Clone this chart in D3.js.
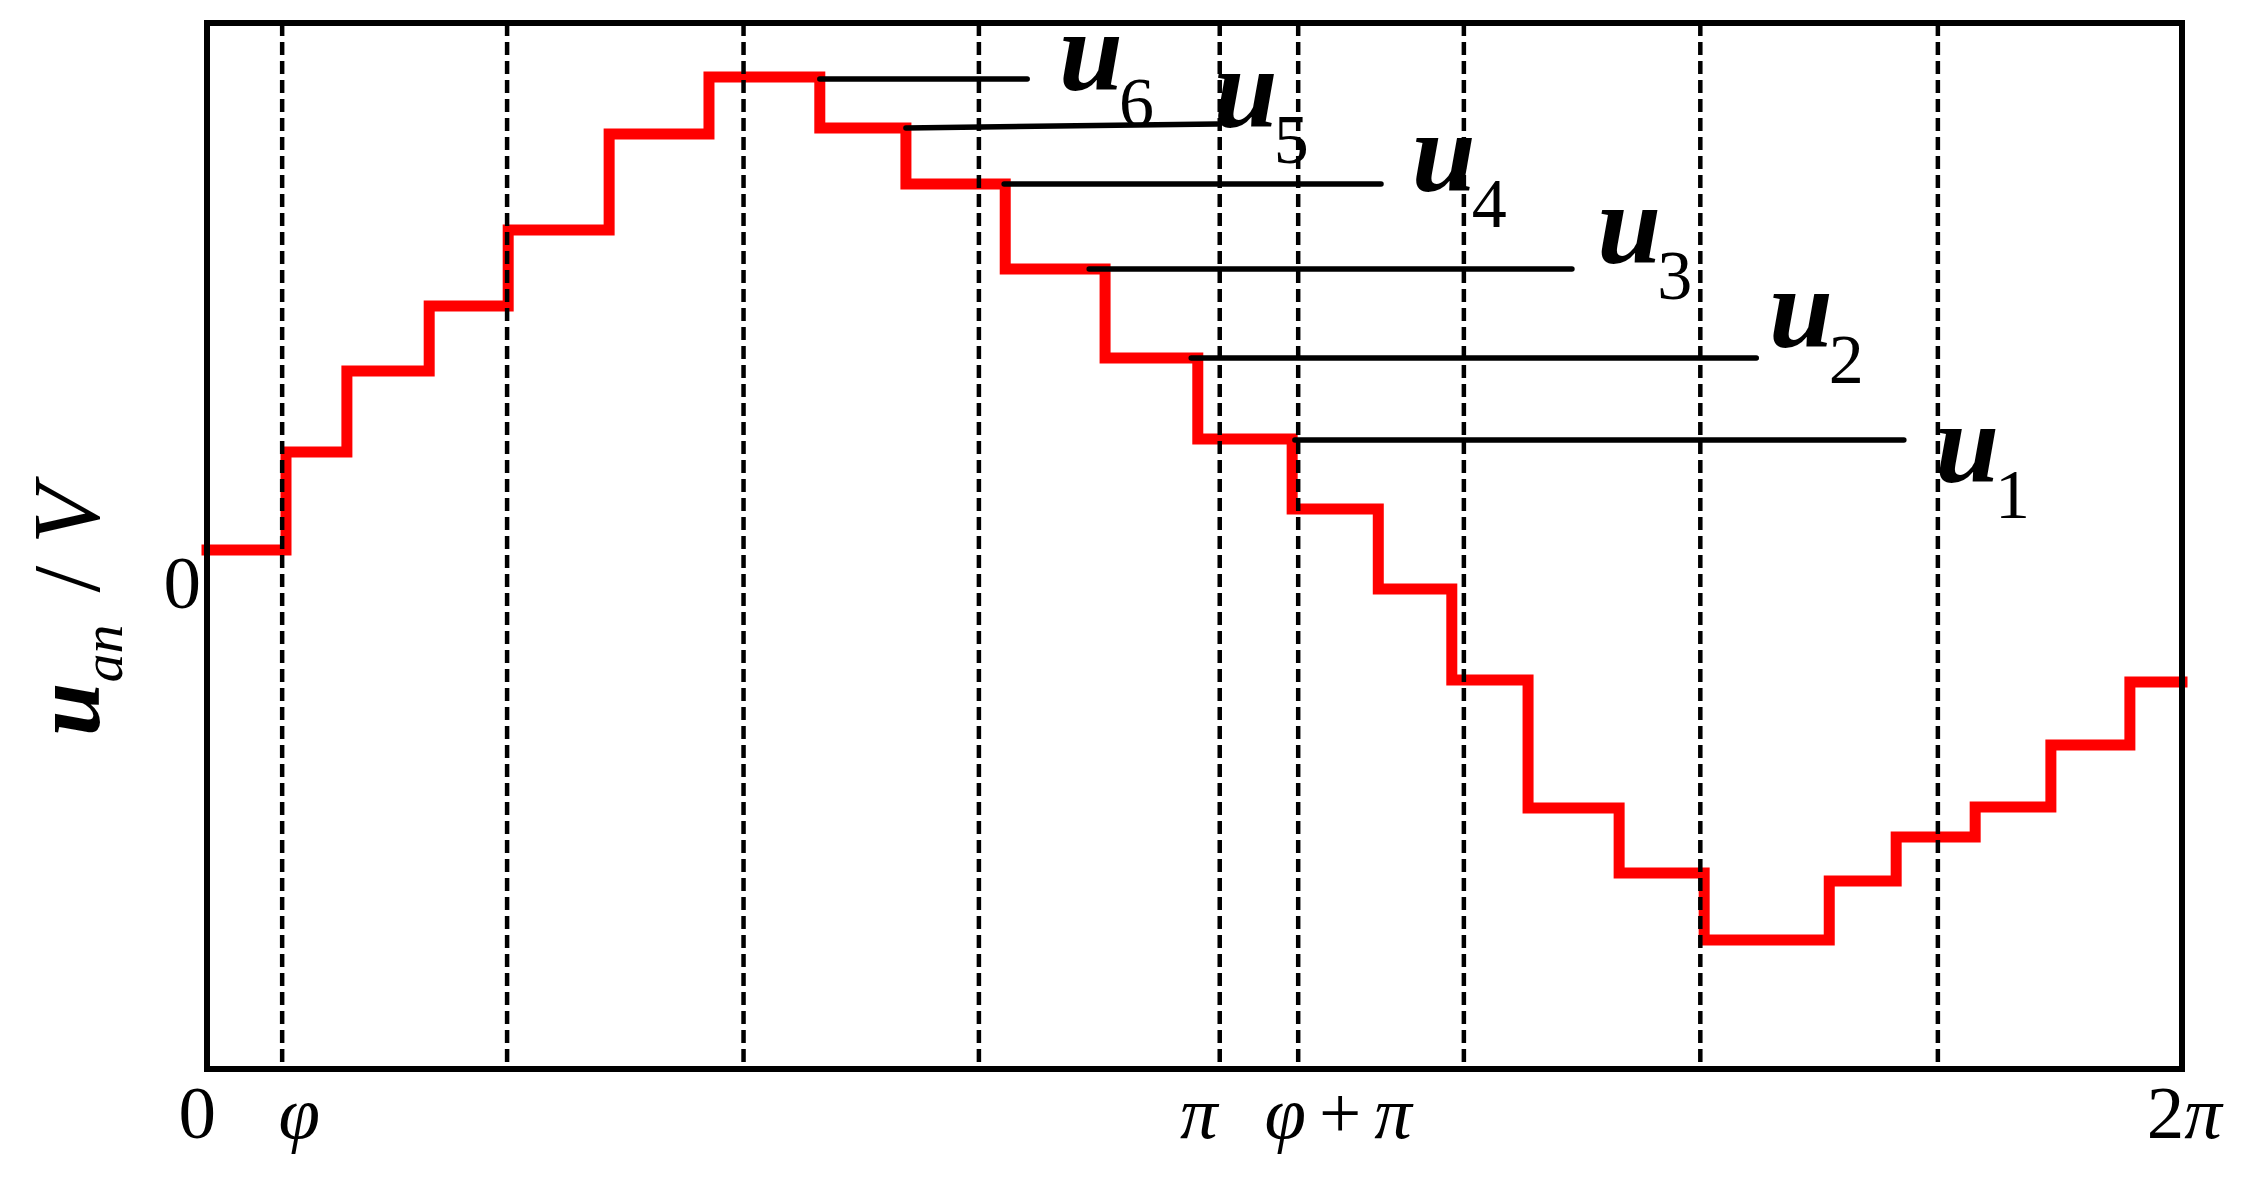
<!DOCTYPE html>
<html>
<head>
<meta charset="utf-8">
<script src="https://cdn.jsdelivr.net/npm/d3@7"></script>
<style>
  body { margin: 0; background: #fff; }
  svg { display: block; font-family: 'Liberation Serif', 'Times New Roman', serif; }
</style>
</head>
<body>
<div id="chart"></div>
<script>
/* global d3 */

// staircase u_an: angle (deg) where each level starts, and its level
const stepStart = [0, 14.4, 25.5, 40.5, 54.9, 73.3, 91.5, 111.7, 127.4, 145.5, 163.7, 180.6,
  197.8, 213.5, 226.9, 240.8, 257.4, 272.9, 295.7, 307.9, 322.3, 336.1, 350.5];
const stepLevel = [0, 0.98, 1.79, 2.44, 3.20, 4.16, 4.73, 4.22, 3.66, 2.81, 1.92, 1.11,
  0.41, -0.39, -1.30, -2.58, -3.23, -3.90, -3.31, -2.87, -2.57, -1.95, -1.32];
const periodEnd = 360;

// dashed reference angles (deg)
const gridAngles = [13.7, 54.7, 97.8, 140.7, 184.6, 198.9, 229.1, 272.2, 315.5];

// x tick labels (deg)
const xTickPos = [-1.8, 16.8, 180.8, 206.2, 360.4];
const xTickLabels = ['0', 'φ', 'π', 'φ+π', '2π'];

// y tick labels
const yTickPos = [0];
const yTickLabels = ['0'];

// u1..u6 leader lines and labels
const levelNames = ['6', '5', '4', '3', '2', '1'];
const leaderFrom = [111.7, 127.4, 145.3, 160.8, 179.4, 198.3];
const leaderTo = [149.5, 184.1, 214.0, 248.8, 282.4, 309.3];
const leaderFromLevel = [4.71, 4.22, 3.66, 2.81, 1.92, 1.10];
const leaderToLevel = [4.71, 4.26, 3.66, 2.81, 1.92, 1.10];
const labelAngle = [155.3, 183.5, 219.6, 253.4, 284.7, 315.0];
const labelLevel = [4.60, 4.23, 3.59, 2.87, 2.03, 0.68];

const W = 2241;
const H = 1181;
const margin = { top: 23, right: 59, bottom: 112, left: 207 };
const width = W - margin.left - margin.right;
const height = H - margin.top - margin.bottom;

const svg = d3.select('#chart').append('svg')
  .attr('width', W)
  .attr('height', H);

const g = svg.append('g')
  .attr('transform', `translate(${margin.left},${margin.top})`);

const x = d3.scaleLinear().domain([0, periodEnd]).range([0, width]);
const y = d3.scaleLinear().domain([-5.19, 5.27]).range([height, 0]);

// waveform
const pts = stepStart.map((a, i) => [a, stepLevel[i]]);
pts.push([periodEnd, stepLevel[stepLevel.length - 1]]);

const line = d3.line()
  .x(d => x(d[0]))
  .y(d => y(d[1]))
  .curve(d3.curveStepAfter);

g.append('path')
  .datum(pts)
  .attr('d', line)
  .attr('fill', 'none')
  .attr('stroke', '#ff0000')
  .attr('stroke-width', 11)
  .attr('stroke-linejoin', 'miter')
  .attr('stroke-linecap', 'square');

// dashed verticals
g.selectAll('line.grid')
  .data(gridAngles)
  .enter().append('line')
  .attr('class', 'grid')
  .attr('x1', d => x(d))
  .attr('x2', d => x(d))
  .attr('y1', 0)
  .attr('y2', height)
  .attr('stroke', '#000')
  .attr('stroke-width', 4.5)
  .attr('stroke-dasharray', '13,6');

// leaders
g.selectAll('line.leader')
  .data(levelNames)
  .enter().append('line')
  .attr('class', 'leader')
  .attr('x1', (d, i) => x(leaderFrom[i]))
  .attr('x2', (d, i) => x(leaderTo[i]))
  .attr('y1', (d, i) => y(leaderFromLevel[i]))
  .attr('y2', (d, i) => y(leaderToLevel[i]))
  .attr('stroke', '#000')
  .attr('stroke-width', 5.5)
  .attr('stroke-linecap', 'round');

const lab = g.selectAll('text.ulab')
  .data(levelNames)
  .enter().append('text')
  .attr('class', 'ulab')
  .attr('x', (d, i) => x(labelAngle[i]))
  .attr('y', (d, i) => y(labelLevel[i]));

lab.append('tspan')
  .attr('font-size', 115)
  .attr('font-style', 'italic')
  .attr('font-weight', 'bold')
  .text('u');
lab.append('tspan')
  .attr('font-size', 70)
  .attr('dx', -4)
  .attr('dy', 36)
  .text(d => d);

// frame
g.append('rect')
  .attr('width', width)
  .attr('height', height)
  .attr('fill', 'none')
  .attr('stroke', '#000')
  .attr('stroke-width', 6);

// x tick labels, greek letters in italic, '+' spaced out
const xt = g.selectAll('text.xtick')
  .data(xTickLabels)
  .enter().append('text')
  .attr('class', 'xtick')
  .attr('x', (d, i) => x(xTickPos[i]))
  .attr('y', height + 69)
  .attr('text-anchor', 'middle')
  .attr('font-size', 75);

xt.selectAll('tspan')
  .data(d => d.split('').map((c, i, arr) => ({ c, prev: arr[i - 1] })))
  .enter().append('tspan')
  .attr('font-style', d => ('φπ'.includes(d.c) ? 'italic' : 'normal'))
  .attr('dx', d => (d.c === '+' || d.prev === '+' ? 13 : 0))
  .text(d => d.c);

// y tick labels
g.selectAll('text.ytick')
  .data(yTickLabels)
  .enter().append('text')
  .attr('class', 'ytick')
  .attr('x', -6)
  .attr('y', (d, i) => y(yTickPos[i]) + 58)
  .attr('text-anchor', 'end')
  .attr('font-size', 75)
  .text(d => d);

// y axis title: u_an / V
const yt = svg.append('text')
  .attr('transform', 'translate(99,736) rotate(-90)')
  .attr('font-size', 96);
yt.append('tspan')
  .attr('font-style', 'italic')
  .attr('font-weight', 'bold')
  .text('u');
yt.append('tspan')
  .attr('font-style', 'italic')
  .attr('font-size', 58)
  .attr('dy', 23)
  .text('an');
yt.append('tspan')
  .attr('dx', 32)
  .attr('dy', -23)
  .text('/');
yt.append('tspan')
  .attr('font-style', 'italic')
  .attr('dx', 22)
  .text('V');
</script>
</body>
</html>
